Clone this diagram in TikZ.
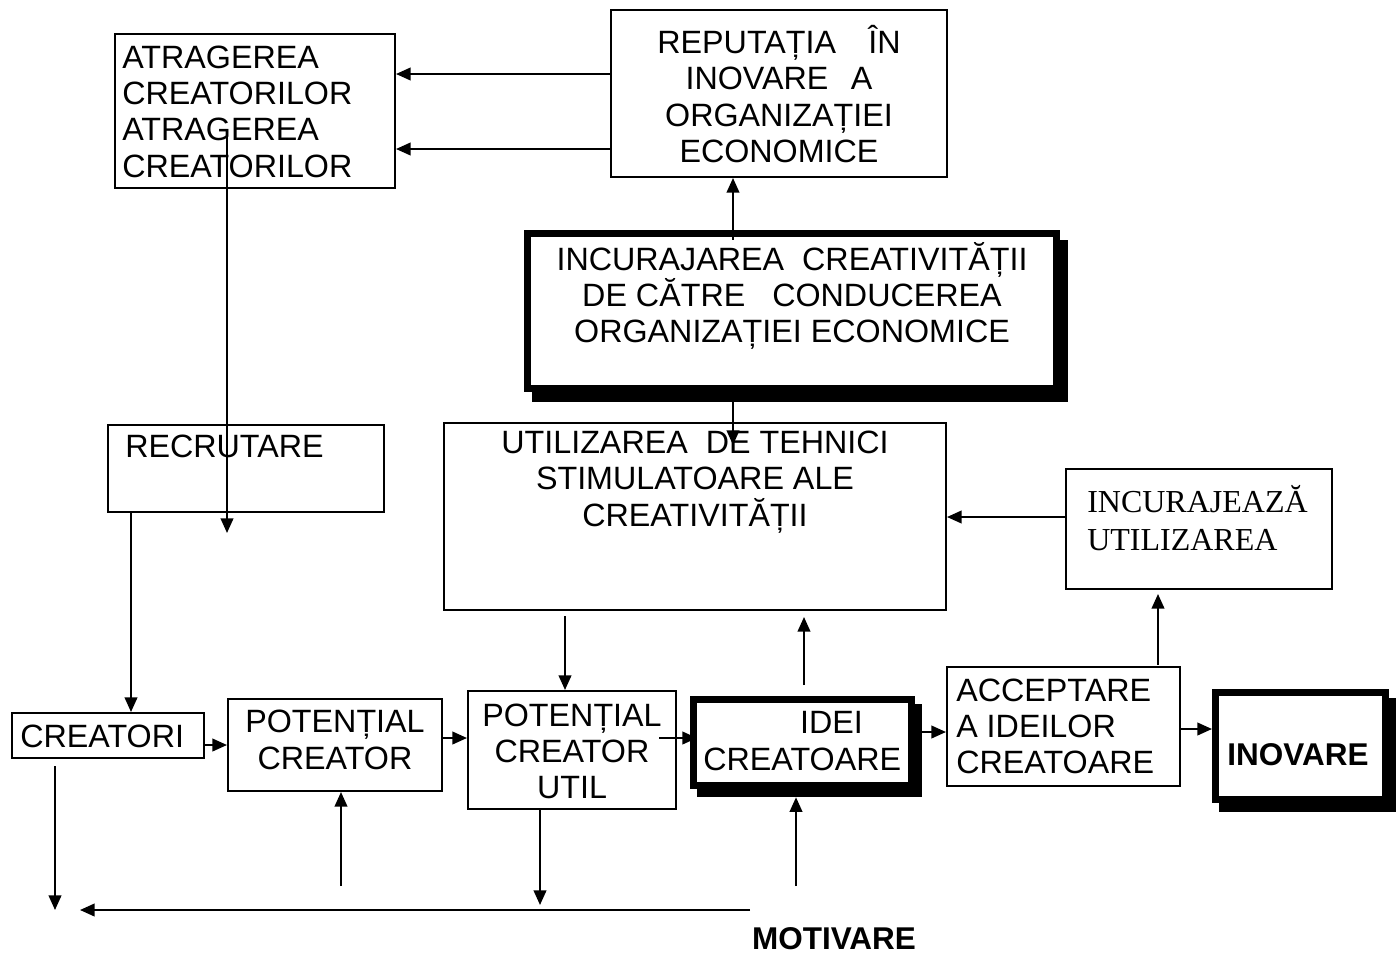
\documentclass[tikz,border=0pt]{standalone}
\usepackage{fontspec}
\setmainfont{Liberation Sans}
\newfontfamily\tnr{Liberation Serif}
\usetikzlibrary{arrows.meta,fit,calc}
\begin{document}
\begin{tikzpicture}[x=0.75pt,y=-0.75pt,
  box/.style={draw,line width=1.5pt,inner sep=0pt,fill=white},
  heavy/.style={draw,line width=5.25pt,inner sep=0pt,fill=white},
  shade/.style={fill=black,inner sep=0pt},
  txt/.style={inner sep=0pt,font=\fontsize{24.2}{27.2}\selectfont},
  bold/.style={inner sep=0pt,font=\fontsize{23.6}{27.2}\selectfont\bfseries},
  serif/.style={inner sep=0pt,font=\tnr\fontsize{24}{28.5}\selectfont},
  ln/.style={line width=1.5pt},
  arr/.style={line width=1.5pt,-{Triangle[length=11pt,width=9.5pt]}}
]
\fill[white] (0,0) rectangle (1400,954);
\useasboundingbox (0,0) rectangle (1400,954);

% ---- boxes ----
\node[box,fit={(115,34)(395,188)}] (A) {};
\node[box,fit={(611,10)(947,177)}] (R) {};
\node[shade,fit={(532,240)(1068,402)}] (Tsh) {};
\node[heavy,fit={(527.5,233.5)(1056.5,388.5)}] (T) {};
\node[box,fit={(444,423)(946,610)}] (U) {};
\node[box,fit={(1066,469)(1332,589)}] (IU) {};
\node[box,fit={(108,425)(384,512)}] (Rec) {};
\node[box,fit={(12,713)(204,758)}] (Cr) {};
\node[box,fit={(228,699)(442,791)}] (PC) {};
\node[box,fit={(468,691)(676,809)}] (PCU) {};
\node[shade,fit={(697,704)(922,797)}] (IDsh) {};
\node[heavy,fit={(693.5,699.5)(911.5,785.5)}] (ID) {};
\node[box,fit={(947,667)(1180,786)}] (ACC) {};
\node[shade,fit={(1219,698)(1396,812)}] (INsh) {};
\node[heavy,fit={(1215.5,692.5)(1385.5,799.5)}] (IN) {};

% ---- texts ----
\node[txt,anchor=west,align=left] (At) at (122,111.5)
  {ATRAGEREA\\CREATORILOR\\ATRAGEREA\\CREATORILOR};
\node[txt,align=center] (Rt) at (779,94)
  {REPUTAȚIA\hspace{1.0em}ÎN\\INOVARE\hspace{0.7em}A\\ORGANIZAȚIEI\\ECONOMICE};
\node[txt,align=center] (Tt) at (792,296)
  {INCURAJAREA\hspace{0.556em}CREATIVITĂȚII\\DE CĂTRE\hspace{0.834em}CONDUCEREA\\ORGANIZAȚIEI ECONOMICE};
\node[txt,align=center] (Ut) at (695,482)
  {UTILIZAREA\hspace{0.556em}DE TEHNICI\\STIMULATOARE ALE\\CREATIVITĂȚII};
\node[serif,anchor=west,align=left] (IUt) at (1087,518) {INCURAJEAZĂ\\UTILIZAREA};
\node[txt,anchor=west] (Rect) at (125,446) {RECRUTARE};
\node[txt,anchor=west] (Crt) at (20,736) {CREATORI};
\node[txt,align=center] (PCt) at (335,740) {POTENȚIAL\\CREATOR};
\node[txt,align=center] (PCUt) at (572,751.5) {POTENȚIAL\\CREATOR\\UTIL};
\node[txt,anchor=west,align=left] (IDt) at (703,741) {\hspace*{3.0em}IDEI\\CREATOARE};
\node[txt,anchor=west,align=left] (ACCt) at (956,726.5) {ACCEPTARE\\A IDEILOR\\CREATOARE};
\node[bold] (INt) at (1298,755) {INOVARE};
\node[bold] (Mot) at (834,939) {MOTIVARE};

% ---- helper coordinates ----
\coordinate (y74) at (0,74);
\coordinate (y149) at (0,149);
\coordinate (x733) at (733,0);
\coordinate (ut) at (733,445);
\coordinate (a1) at (227,130);
\coordinate (a2) at (227,533);
\coordinate (x131) at (131,0);
\coordinate (y745) at (0,745);
\coordinate (y738) at (0,738);
\coordinate (p1) at (659,738);
\coordinate (p2) at (697,738);
\coordinate (y732) at (0,732);
\coordinate (y729) at (0,729);
\coordinate (u1) at (565,616);
\coordinate (x565) at (565,0);
\coordinate (i1) at (804,685);
\coordinate (i2) at (804,617);
\coordinate (y517) at (0,517);
\coordinate (c1) at (1158,665);
\coordinate (c2) at (1158,594);
\coordinate (d1) at (55,766);
\coordinate (d2) at (55,910);
\coordinate (e1) at (341,886);
\coordinate (x341) at (341,0);
\coordinate (x540) at (540,0);
\coordinate (f2) at (540,905);
\coordinate (g1) at (796,886);
\coordinate (x796) at (796,0);
\coordinate (h1) at (750,910);
\coordinate (h2) at (80,910);

% ---- connectors ----
\draw[arr] (R.west |- y74) -- (A.east |- y74);
\draw[arr] (R.west |- y149) -- (A.east |- y149);
\draw[arr] (Tsh.north -| x733) -- (R.south -| x733);
\draw[arr] (Tsh.south -| x733) -- (ut);
\draw[arr] (a1) -- (a2);
\draw[arr] (Rec.south -| x131) -- (Cr.north -| x131);
\draw[arr] (Cr.east |- y745) -- (PC.west |- y745);
\draw[arr] (PC.east |- y738) -- (PCU.west |- y738);
\draw[arr] (p1) -- (p2);
\draw[arr] (IDsh.east |- y732) -- (ACC.west |- y732);
\draw[arr] (ACC.east |- y729) -- (IN.west |- y729);
\draw[arr] (u1) -- (PCU.north -| x565);
\draw[arr] (i1) -- (i2);
\draw[arr] (IU.west |- y517) -- (U.east |- y517);
\draw[arr] (c1) -- (c2);
\draw[arr] (d1) -- (d2);
\draw[arr] (e1) -- (PC.south -| x341);
\draw[arr] (PCU.south -| x540) -- (f2);
\draw[arr] (g1) -- (IDsh.south -| x796);
\draw[arr] (h1) -- (h2);
\end{tikzpicture}
\end{document}
